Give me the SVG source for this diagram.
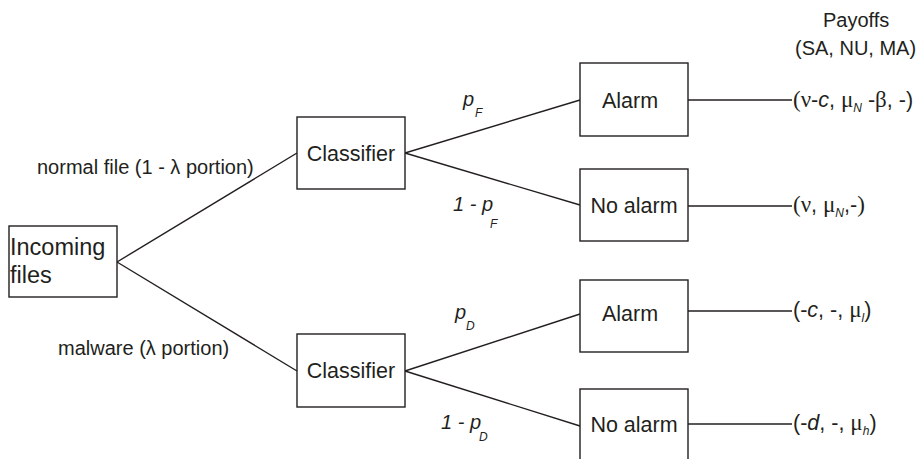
<svg xmlns="http://www.w3.org/2000/svg" width="916" height="459" viewBox="0 0 916 459">
<style>
  .box{fill:#fff;stroke:#231f20;stroke-width:1.4}
  .ln{stroke:#231f20;stroke-width:1.4;fill:none}
  text{font-family:"Liberation Sans",Arial,sans-serif;fill:#231f20}
  .bt{font-size:21.5px;text-anchor:middle}
  .inc{font-size:23.5px}
  .lab{font-size:20px}
  .pl{font-size:20px;font-style:italic}
  .sub{font-size:12px;font-style:italic}
  .pay{font-size:21.5px}
  .sf{font-family:"Liberation Serif","Times New Roman",serif;font-size:23px}
  .it{font-style:italic}
  .hd{font-size:20px}
</style>
<g id="connectors">
  <line class="ln" x1="117" y1="262" x2="297" y2="153"/>
  <line class="ln" x1="117" y1="262" x2="297" y2="371"/>
  <line class="ln" x1="405" y1="153" x2="580" y2="100"/>
  <line class="ln" x1="405" y1="153" x2="580" y2="205"/>
  <line class="ln" x1="405" y1="371" x2="580" y2="314"/>
  <line class="ln" x1="405" y1="371" x2="580" y2="426"/>
  <line class="ln" x1="688" y1="100" x2="792" y2="100"/>
  <line class="ln" x1="688" y1="206" x2="792" y2="206"/>
  <line class="ln" x1="688" y1="311" x2="792" y2="311"/>
  <line class="ln" x1="688" y1="424" x2="792" y2="424"/>
</g>
<g id="edge-labels">
  <text class="lab" x="37" y="174">normal file (1 - λ portion)</text>
  <text class="lab" x="58" y="355">malware (λ portion)</text>
  <text class="pl" x="463" y="106">p</text><text class="sub" x="475" y="117">F</text>
  <text class="pl" x="453" y="211">1 - p</text><text class="sub" x="490" y="228">F</text>
  <text class="pl" x="455" y="319">p</text><text class="sub" x="466" y="330">D</text>
  <text class="pl" x="441" y="429">1 - p</text><text class="sub" x="479" y="441">D</text>
</g>
<g id="incoming">
  <rect class="box" x="9" y="226" width="108" height="71"/>
  <text class="inc" x="10" y="255">Incoming</text>
  <text class="inc" x="10" y="283">files</text>
</g>
<g id="classifier1">
  <rect class="box" x="297" y="117" width="108" height="72"/>
  <text class="bt" x="351" y="161">Classifier</text>
</g>
<g id="classifier2">
  <rect class="box" x="297" y="334" width="108" height="73"/>
  <text class="bt" x="351" y="378">Classifier</text>
</g>
<g id="alarm1">
  <rect class="box" x="580" y="63" width="108" height="73"/>
  <text class="bt" x="630" y="108">Alarm</text>
</g>
<g id="noalarm1">
  <rect class="box" x="580" y="169" width="108" height="72"/>
  <text class="bt" x="634" y="213">No alarm</text>
</g>
<g id="alarm2">
  <rect class="box" x="580" y="280" width="108" height="72"/>
  <text class="bt" x="630" y="321">Alarm</text>
</g>
<g id="noalarm2">
  <rect class="box" x="580" y="389" width="108" height="80"/>
  <text class="bt" x="634" y="432">No alarm</text>
</g>
<g id="payoffs">
  <text class="hd" x="823" y="27">Payoffs</text>
  <text class="hd" x="795" y="55">(SA, NU, MA)</text>
  <text class="pay" x="793" y="107"><tspan class="sf">(ν</tspan>-<tspan class="it">c</tspan>, <tspan class="sf">μ</tspan><tspan class="sub" dy="5">N</tspan><tspan dy="-5"> -</tspan><tspan class="sf">β</tspan>, -)</text>
  <text class="pay" x="793" y="212"><tspan class="sf">(ν</tspan>, <tspan class="sf">μ</tspan><tspan class="sub" dy="5">N</tspan><tspan dy="-5">,-</tspan><tspan class="sf">)</tspan></text>
  <text class="pay" x="793" y="317">(-<tspan class="it">c</tspan>, -, <tspan class="sf">μ</tspan><tspan class="sub" dy="5">l</tspan><tspan dy="-5">)</tspan></text>
  <text class="pay" x="793" y="430">(-<tspan class="it">d</tspan>, -, <tspan class="sf">μ</tspan><tspan class="sub" dy="5">h</tspan><tspan dy="-5">)</tspan></text>
</g>
</svg>
